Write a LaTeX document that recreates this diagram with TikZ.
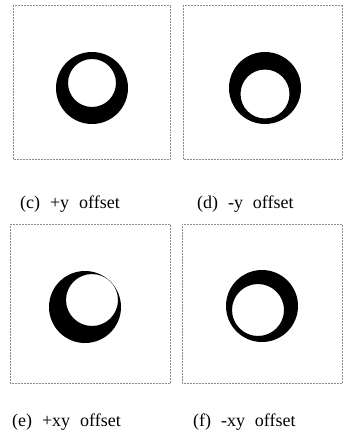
\documentclass[tikz,border=0pt]{standalone}
\usepackage{fontspec}
\setmainfont{Liberation Serif}
\usetikzlibrary{positioning}

\begin{document}
\begin{tikzpicture}[x=1pt, y=-1pt,
		frame/.style={draw=black!45, densely dotted, line width=0.5pt},
		ring/.style={fill=black, even odd rule},
		caption/.style={font=\fontsize{18}{20}\selectfont, anchor=west, inner sep=0pt}
		]
		\useasboundingbox (0,0) rectangle (345,436);
		
		% Cadres
		\draw[frame] (13,5) rectangle (170,159);
		\draw[frame] (183,5) rectangle (342,159);
		\draw[frame] (10,224) rectangle (170,383);
		\draw[frame] (182,224) rectangle (342,383);
		
		% Anneaux : centre ext., centre int., rayon int.
		\foreach \cx/\cy/\ix/\iy/\ir in {92/88/92/83/24, 265/88/265/94/24.5,
			85/307/92/300/26, 262/306/258/310/26}
		\fill[ring] (\cx,\cy) circle[radius=36pt] (\ix,\iy) circle[radius=\ir pt];
		
		% Legendes
		\node[caption] (capc) at (20,204) {(c)\hspace{0.55em}+y\hspace{0.55em}offset};
		\node[caption] (capd) at (197,204) {(d)\hspace{0.55em}-y\hspace{0.55em}offset};
		\node[caption] (cape) at (12,422) {(e)\hspace{0.55em}+xy\hspace{0.55em}offset};
		\node[caption] (capf) at (193,422) {(f)\hspace{0.55em}-xy\hspace{0.55em}offset};
	\end{tikzpicture}
\end{document}
